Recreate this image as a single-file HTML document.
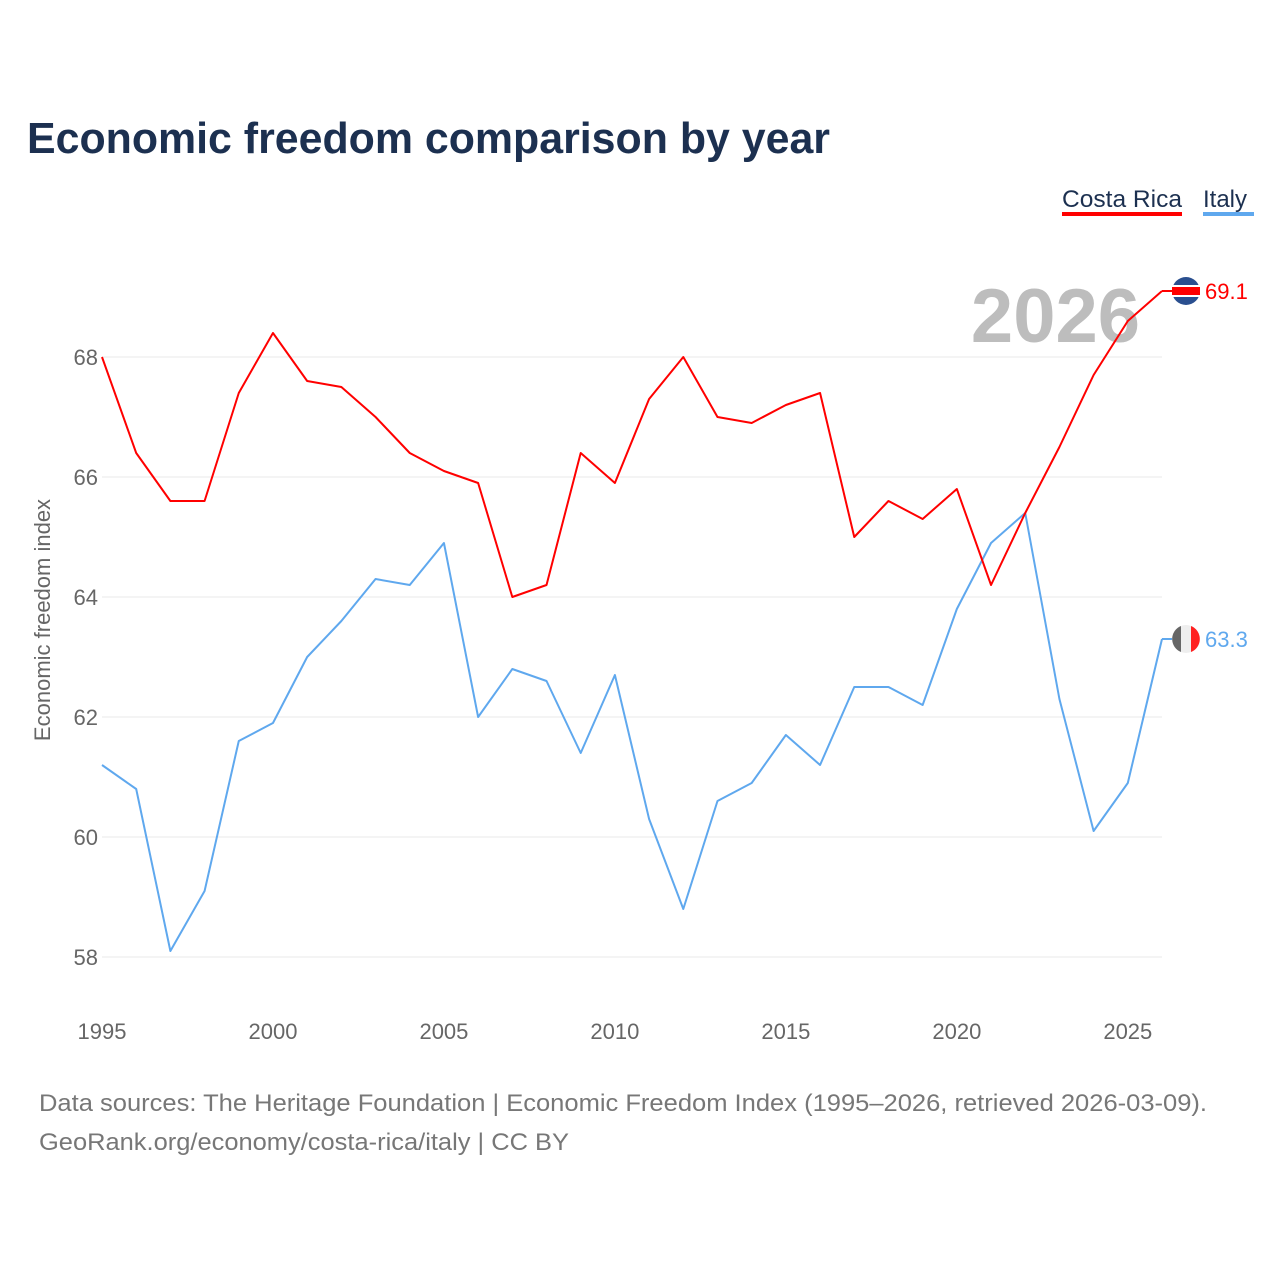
<!DOCTYPE html>
<html><head><meta charset="utf-8">
<style>
html,body{margin:0;padding:0;background:#fff;}
body{width:1280px;height:1280px;overflow:hidden;font-family:"Liberation Sans",sans-serif;}
</style></head>
<body>
<svg id="chart" width="1280" height="1280" xmlns="http://www.w3.org/2000/svg" font-family="Liberation Sans, sans-serif">
  <text x="27" y="153" font-size="44" font-weight="bold" fill="#1c3050" textLength="803" lengthAdjust="spacingAndGlyphs">Economic freedom comparison by year</text>
  <g>
    <g>
      <text x="1062" y="207" font-size="24" fill="#1c3050" textLength="120" lengthAdjust="spacingAndGlyphs">Costa Rica</text>
      <rect x="1062" y="212" width="120" height="4" fill="#ff0000"/>
    </g>
    <g>
      <text x="1203" y="207" font-size="24" fill="#1c3050">Italy</text>
      <rect x="1203" y="212" width="51" height="4" fill="#5fa8ee"/>
    </g>
  </g>
  <text x="1140" y="342" text-anchor="end" font-size="76" font-weight="bold" fill="#bdbdbd">2026</text>
  <g id="grid"></g>
  <g id="yticks"></g>
  <g id="xticks"></g>
  <text transform="translate(50,620) rotate(-90)" text-anchor="middle" font-size="22" fill="#666">Economic freedom index</text>
  <g id="series"></g>
  <text x="39" y="1111" font-size="24" fill="#777" textLength="1168" lengthAdjust="spacingAndGlyphs">Data sources: The Heritage Foundation | Economic Freedom Index (1995–2026, retrieved 2026-03-09).</text>
  <text x="39" y="1150" font-size="24" fill="#777" textLength="530" lengthAdjust="spacingAndGlyphs">GeoRank.org/economy/costa-rica/italy | CC BY</text>
</svg>
<script>
const years = [1995,1996,1997,1998,1999,2000,2001,2002,2003,2004,2005,2006,2007,2008,2009,2010,2011,2012,2013,2014,2015,2016,2017,2018,2019,2020,2021,2022,2023,2024,2025,2026];
const costaRica = [68.0,66.4,65.6,65.6,67.4,68.4,67.6,67.5,67.0,66.4,66.1,65.9,64.0,64.2,66.4,65.9,67.3,68.0,67.0,66.9,67.2,67.4,65.0,65.6,65.3,65.8,64.2,65.4,66.5,67.7,68.6,69.1];
const italy = [61.2,60.8,58.1,59.1,61.6,61.9,63.0,63.6,64.3,64.2,64.9,62.0,62.8,62.6,61.4,62.7,60.3,58.8,60.6,60.9,61.7,61.2,62.5,62.5,62.2,63.8,64.9,65.4,62.3,60.1,60.9,63.3];
const yTicks = [58,60,62,64,66,68];
const xTicks = [1995,2000,2005,2010,2015,2020,2025];

const NS="http://www.w3.org/2000/svg";
function xs(y){return 102+(y-1995)*(1162-102)/31;}
function ys(v){return 357+(68-v)*60;}
function mk(tag,attrs,parent){const e=document.createElementNS(NS,tag);for(const k in attrs)e.setAttribute(k,attrs[k]);parent.appendChild(e);return e;}

const grid=document.getElementById('grid'),yt=document.getElementById('yticks'),xt=document.getElementById('xticks'),ser=document.getElementById('series');
yTicks.forEach(v=>{
  const l=mk('line',{x1:102,x2:1162,y1:ys(v),y2:ys(v),stroke:'#e8e8e8','stroke-width':1},grid);
  
  
  const t=mk('text',{x:98,y:ys(v)+8,'text-anchor':'end','font-size':22,fill:'#666'},yt);
  t.textContent=v;
  
  
});
xTicks.forEach(y=>{
  const t=mk('text',{x:xs(y),y:1039,'text-anchor':'middle','font-size':22,fill:'#666'},xt);
  t.textContent=y;
  
  
});
function drawSeries(vals,color,name){
  const p=mk('polyline',{points:vals.map((v,i)=>xs(years[i])+','+ys(v)).join(' '),fill:'none',stroke:color,'stroke-width':2,'stroke-linejoin':'round'},ser);
  
  
  const last=vals[vals.length-1], ly=ys(last);
  const c=mk('line',{x1:1162,x2:1174,y1:ly,y2:ly,stroke:color,'stroke-width':2},ser);
  
  
  const g=mk('g',{},ser);
  
  
  if(name==='costa-rica'){
    mk('circle',{cx:1186,cy:ly,r:14,fill:'#2a4f8f'},g);
    mk('rect',{x:1172,y:ly-4,width:28,height:8,fill:'#ff0000'},g);
    mk('rect',{x:1172,y:ly-6,width:28,height:2,fill:'#fff'},g);
    mk('rect',{x:1172,y:ly+4,width:28,height:2,fill:'#fff'},g);
  } else {
    mk('circle',{cx:1186,cy:ly,r:14,fill:'#eee'},g);
    mk('path',{d:`M1181,${ly-13} A14,14 0 0,0 1181,${ly+13} Z`,fill:'#666'},g);
    mk('path',{d:`M1191,${ly-13} A14,14 0 0,1 1191,${ly+13} Z`,fill:'#ff2020'},g);
  }
  const t=mk('text',{x:1205,y:ly+8,'font-size':22,fill:color},ser);
  t.textContent=last.toFixed(1);
  
  
}
drawSeries(italy,'#5fa8ee','italy');
drawSeries(costaRica,'#ff0000','costa-rica');
</script>
</body></html>
